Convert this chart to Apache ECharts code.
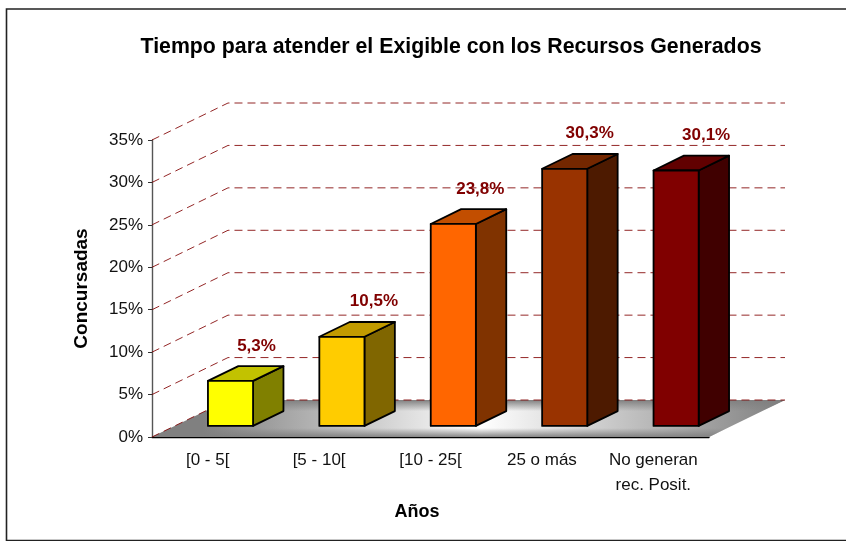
<!DOCTYPE html>
<html><head><meta charset="utf-8">
<style>html,body{margin:0;padding:0;background:#fff}#c{width:846px;height:541px}</style>
<script src="https://cdn.jsdelivr.net/npm/echarts@6/dist/echarts.min.js"></script>
</head><body><div id="c"></div>
<script>
const categories = ['[0 - 5[', '[5 - 10[', '[10 - 25[', '25 o más', 'No generan\nrec. Posit.'];
const values = [5.3, 10.5, 23.8, 30.3, 30.1];
const wallTicks = [0, 5, 10, 15, 20, 25, 30, 35];
const frontColors = ['#ffff00', '#ffcc00', '#ff6600', '#993300', '#800000'];
const topColors = ['#c2c200', '#c29b00', '#c24e00', '#742700', '#610000'];
const sideColors = ['#808000', '#806600', '#803300', '#4d1a00', '#400000'];
const labelNudge = [-1, 5, 0, -2, 3];

const DX = 76, DY = -37;           // projected depth of the plot
const BAR_IN = 0.30, BAR_D = 0.40; // bar start and length along the depth
const FONT = '"Liberation Sans", Arial, sans-serif';
const WINE = '#800000';

const chart = echarts.init(document.getElementById('c'), null, {renderer: 'canvas'});

function wall(params, api) {
  const cs = params.coordSys;
  const y = api.coord([0, api.value(0)])[1];
  return {type: 'polyline', shape: {points: [[cs.x, y], [cs.x + DX, y + DY], [cs.x + cs.width + DX, y + DY]]},
    style: {fill: null, stroke: WINE, lineWidth: 1, lineDash: [8, 5], opacity: 0.85}};
}

function floor(params, api) {
  const cs = params.coordSys;
  const y0 = cs.y + cs.height;
  const pts = [[cs.x, y0], [cs.x + cs.width, y0], [cs.x + cs.width + DX, y0 + DY], [cs.x + DX, y0 + DY]];
  return {type: 'group', children: [
    {type: 'polygon', shape: {points: pts}, style: {fill: new echarts.graphic.LinearGradient(0, 0, 1, 0, [
      {offset: 0, color: '#808080'}, {offset: 0.08, color: '#808080'}, {offset: 0.52, color: '#ffffff'}, {offset: 1, color: '#808080'}])}},
    {type: 'polygon', shape: {points: pts}, style: {fill: new echarts.graphic.LinearGradient(0, 0, 0, 1, [
      {offset: 0, color: 'rgba(128,128,128,1)'}, {offset: 0.3, color: 'rgba(128,128,128,0)'},
      {offset: 0.76, color: 'rgba(128,128,128,0)'}, {offset: 1, color: 'rgba(128,128,128,0.95)'}])}}
  ]};
}

function bar3d(params, api) {
  const i = params.dataIndex;
  const centre = api.coord([api.value(0), 0]);
  const top = api.coord([api.value(0), api.value(1)]);
  const band = api.size([1, 0])[0];
  const w = band * 0.405;
  const x0 = centre[0] - w / 2 + DX * BAR_IN;
  const yb = centre[1] + DY * BAR_IN;
  const yt = top[1] + DY * BAR_IN;
  const dx = DX * BAR_D, dy = DY * BAR_D;
  const edge = {stroke: '#000', lineWidth: 1.8, lineJoin: 'round'};
  const poly = (points, fill) => ({type: 'polygon', shape: {points}, style: Object.assign({fill}, edge)});
  return {type: 'group', children: [
    poly([[x0 + w, yt], [x0 + w + dx, yt + dy], [x0 + w + dx, yb + dy], [x0 + w, yb]], sideColors[i]),
    poly([[x0, yt], [x0 + dx, yt + dy], [x0 + w + dx, yt + dy], [x0 + w, yt]], topColors[i]),
    poly([[x0, yt], [x0 + w, yt], [x0 + w, yb], [x0, yb]], frontColors[i]),
    {type: 'text', z2: 10, style: {x: x0 + w / 2 + 27 + labelNudge[i], y: yt - 35,
      text: String(api.value(1)).replace('.', ',') + '%',
      font: 'bold 17px ' + FONT, fill: WINE, align: 'center', verticalAlign: 'middle'}}
  ]};
}

chart.setOption({
  animation: false,
  backgroundColor: '#fff',
  title: {text: 'Tiempo para atender el Exigible con los Recursos Generados', left: 446, top: 32, textAlign: 'center',
    textStyle: {fontFamily: FONT, fontWeight: 'bold', fontSize: 21.3, color: '#000'}},
  grid: {left: 152, top: 140, width: 557, height: 297},
  graphic: [
    {type: 'polyline', z: -1, shape: {points: [[846, 9], [6.5, 9], [6.5, 540.5], [846, 540.5]]},
      style: {fill: null, stroke: '#222', lineWidth: 1.6}}
  ],
  xAxis: {type: 'category', data: categories, boundaryGap: true,
    axisLine: {lineStyle: {color: '#000', width: 1.4}},
    axisTick: {length: 4, alignWithLabel: false, lineStyle: {color: '#000'}},
    axisLabel: {fontFamily: FONT, fontSize: 17, color: '#111', margin: 11, lineHeight: 25, interval: 0},
    name: 'Años', nameLocation: 'middle', nameGap: 65,
    nameTextStyle: {fontFamily: FONT, fontWeight: 'bold', fontSize: 18, color: '#000', padding: [0, 27, 0, 0]}},
  yAxis: {type: 'value', min: 0, max: 35, interval: 5,
    axisLine: {show: true, lineStyle: {color: '#555', width: 1.4}},
    axisTick: {show: true, length: 4, lineStyle: {color: '#333'}},
    splitLine: {show: false},
    axisLabel: {fontFamily: FONT, fontSize: 17, color: '#111', margin: 9, formatter: '{value}%'},
    name: 'Concursadas', nameLocation: 'middle', nameGap: 61, nameRotate: 90,
    nameTextStyle: {fontFamily: FONT, fontWeight: 'bold', fontSize: 19, color: '#000'}},
  series: [
    {type: 'custom', z: 1, data: [[0]], renderItem: floor, encode: {y: 0}, silent: true, clip: false},
    {type: 'custom', z: 2, data: wallTicks.map(v => [v]), renderItem: wall, encode: {y: 0}, silent: true, clip: false},
    {type: 'custom', z: 3, data: values.map((v, i) => [i, v]), renderItem: bar3d, encode: {x: 0, y: 1}, silent: true, clip: false}
  ]
});
</script></body></html>
